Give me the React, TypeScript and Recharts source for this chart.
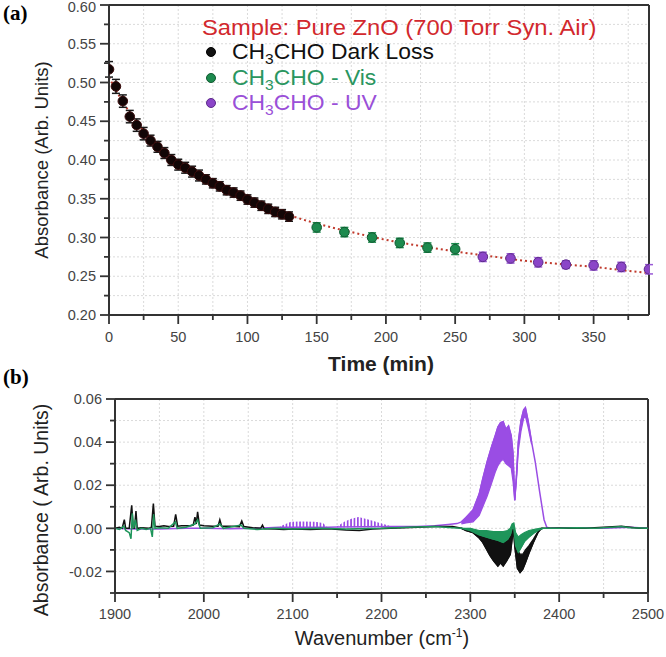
import React from 'react';
import { ComposedChart, Scatter, Line, Area, XAxis, YAxis, CartesianGrid, ErrorBar, ReferenceLine } from 'recharts';

const SANS = "'Liberation Sans', Arial, sans-serif";
const SERIF = "'Liberation Serif', 'Times New Roman', serif";

// ---- (a) decay of CH3CHO ----
const darkTime = [0, 5, 10, 15, 20, 25, 30, 35, 40, 45, 50, 55, 60, 65, 70, 75, 80, 85, 90, 95, 100, 105, 110, 115, 120, 125, 130];
const darkAbs = [0.517, 0.495, 0.476, 0.456, 0.445, 0.434, 0.425, 0.417, 0.409, 0.4, 0.394, 0.39, 0.385, 0.38, 0.375, 0.37, 0.366, 0.361, 0.358, 0.354, 0.349, 0.345, 0.341, 0.337, 0.333, 0.33, 0.327];
const darkErr = [0.01, 0.009, 0.008, 0.008, 0.008, 0.008, 0.007, 0.007, 0.007, 0.007, 0.007, 0.007, 0.007, 0.007, 0.006, 0.006, 0.006, 0.006, 0.006, 0.006, 0.006, 0.006, 0.006, 0.006, 0.006, 0.006, 0.006];
const visTime = [150, 170, 190, 210, 230, 250];
const visAbs = [0.313, 0.307, 0.3, 0.293, 0.287, 0.285];
const visErr = [0.006, 0.006, 0.006, 0.006, 0.006, 0.007];
const uvTime = [270, 290, 310, 330, 350, 370, 390];
const uvAbs = [0.275, 0.273, 0.268, 0.265, 0.264, 0.262, 0.259];
const uvErr = [0.006, 0.006, 0.006, 0.005, 0.006, 0.006, 0.006];
const fitTime = [0, 5, 10, 15, 20, 30, 40, 50, 60, 70, 80, 90, 100, 115, 130, 150, 175, 200, 225, 250, 275, 300, 325, 350, 375, 390];
const fitAbs = [0.507, 0.49, 0.475, 0.461, 0.449, 0.428, 0.41, 0.396, 0.384, 0.374, 0.365, 0.357, 0.349, 0.339, 0.329, 0.318, 0.307, 0.297, 0.289, 0.282, 0.276, 0.27, 0.266, 0.262, 0.257, 0.254];
const timeTicks = [0, 25, 50, 75, 100, 125, 150, 175, 200, 225, 250, 275, 300, 325, 350, 375];
const absTicks = [0.2, 0.225, 0.25, 0.275, 0.3, 0.325, 0.35, 0.375, 0.4, 0.425, 0.45, 0.475, 0.5, 0.525, 0.55, 0.575, 0.6];

// ---- (b) IR spectra ----
const darkWn = [1900, 1905, 1908, 1910.5, 1912, 1916, 1918.8, 1920.5, 1922, 1923.6, 1925, 1930, 1938, 1941, 1943.2, 1945, 1950, 1955, 1960, 1966, 1968.3, 1970.5, 1975, 1985, 1988, 1990, 1991.5, 1993, 1995, 2000, 2010, 2016, 2018, 2020, 2030, 2040, 2042.7, 2045, 2055, 2064, 2066, 2068, 2080, 2090, 2100, 2120, 2140, 2160, 2175, 2190, 2210, 2240, 2260, 2280, 2290, 2295, 2303, 2310, 2314, 2318, 2322, 2326, 2331, 2334, 2337, 2341, 2345, 2347, 2348.5, 2350, 2353, 2356, 2359, 2362, 2366, 2371, 2376, 2380, 2385, 2400, 2430, 2450, 2470, 2490, 2500];
const darkSpec = [0, 0.0005, 0, 0.004, 0, 0, 0.0107, 0, 0, 0.008, 0, 0.0003, 0, 0.0005, 0.0115, 0.001, 0.0008, 0.0012, 0.0008, 0.001, 0.0065, 0.001, 0.0012, 0.0012, 0.0015, 0.0052, 0.002, 0.0076, 0.0015, 0.0012, 0.001, 0.001, 0.004, 0.001, 0.001, 0.0008, 0.0034, 0.0008, 0.0003, 0, 0.0015, -0.0002, -0.0003, -0.0005, -0.0003, -0.0005, -0.0002, -0.0008, -0.001, -0.0003, 0, 0.0005, 0.0008, 0.0008, 0, -0.001, -0.002, -0.0045, -0.0065, -0.0095, -0.0125, -0.015, -0.0175, -0.016, -0.0175, -0.015, -0.012, -0.005, 0, -0.008, -0.0185, -0.0205, -0.019, -0.016, -0.0115, -0.0065, -0.002, 0, 0, 0.0002, 0, 0.0005, 0.001, 0, 0];
const darkBandWn = [2290, 2295, 2303, 2310, 2314, 2318, 2322, 2326, 2331, 2334, 2337, 2341, 2345, 2347, 2348.5, 2350, 2353, 2356, 2359, 2362, 2366, 2371, 2376, 2380];
const darkBandHi = [0, -0.0005, -0.001, -0.0015, -0.002, -0.002, -0.0025, -0.003, -0.003, -0.003, -0.003, -0.003, -0.002, 0, 0.001, -0.004, -0.01, -0.012, -0.012, -0.01, -0.008, -0.005, -0.0015, 0];
const darkBandLo = [0, -0.001, -0.002, -0.0045, -0.0065, -0.0095, -0.0125, -0.015, -0.0175, -0.016, -0.0175, -0.015, -0.012, -0.005, 0, -0.008, -0.0185, -0.0205, -0.019, -0.016, -0.0115, -0.0065, -0.002, 0];

const visWn = [1900, 1905, 1910, 1912, 1916, 1918, 1919.5, 1921, 1923, 1925, 1930, 1935, 1940, 1942, 1943.5, 1945, 1950, 1960, 1968, 1970, 1980, 1990, 1993, 1996, 2010, 2018, 2022, 2042, 2045, 2060, 2080, 2100, 2130, 2160, 2200, 2230, 2260, 2280, 2290, 2300, 2310, 2318, 2326, 2331, 2337, 2342, 2345, 2347, 2349, 2351, 2354, 2357, 2361, 2366, 2372, 2378, 2382, 2400, 2420, 2440, 2460, 2470, 2480, 2500];
const visSpec = [0, -0.0005, 0.001, -0.001, -0.002, -0.0048, 0.007, 0, 0.004, -0.001, 0, -0.0005, 0, -0.004, 0.0065, 0, 0.0003, 0, 0.003, 0, 0.0005, 0.002, 0.004, 0, 0.0003, 0.002, 0, 0.0015, 0, -0.0005, 0, -0.0003, 0, -0.0003, 0, 0.0005, 0.0008, 0.0003, 0, -0.001, -0.003, -0.004, -0.005, -0.0055, -0.0065, -0.005, -0.003, 0, 0, -0.008, -0.011, -0.009, -0.006, -0.004, -0.002, -0.0005, 0, 0, 0.0003, 0, 0.0005, 0.0008, 0.0003, 0];
const visBandWn = [2290, 2300, 2310, 2318, 2326, 2331, 2337, 2342, 2345, 2347, 2349, 2351, 2354, 2357, 2361, 2366, 2372, 2378, 2382];
const visBandHi = [0, 0, -0.001, -0.001, -0.0015, -0.0015, -0.0015, -0.001, 0, 0.002, 0.0025, -0.002, -0.004, -0.003, -0.002, -0.001, -0.0005, 0, 0];
const visBandLo = [0, -0.001, -0.003, -0.004, -0.005, -0.0055, -0.0065, -0.005, -0.003, 0, 0, -0.008, -0.011, -0.009, -0.006, -0.004, -0.002, -0.0005, 0];

const uvWn = [1900, 1920, 1950, 1980, 2000, 2030, 2060, 2085, 2140, 2150, 2212, 2240, 2260, 2275, 2285, 2290, 2295, 2303, 2310, 2314, 2319, 2324, 2328, 2331, 2334, 2337, 2340, 2343, 2346, 2348, 2350, 2352, 2354, 2357, 2360, 2362, 2365, 2369, 2373, 2378, 2383, 2386, 2390, 2420, 2450, 2480, 2500];
const uvSpec = [0, -0.0003, -0.0003, 0, 0, -0.0002, 0, 0.0005, 0.0005, 0.0006, 0.0008, 0.0008, 0.0012, 0.0018, 0.0022, 0.003, 0.005, 0.0085, 0.016, 0.023, 0.031, 0.038, 0.043, 0.047, 0.049, 0.0495, 0.046, 0.0475, 0.043, 0.035, 0.013, 0.025, 0.04, 0.05, 0.055, 0.056, 0.05, 0.04, 0.031, 0.017, 0.004, 0.0005, 0, 0.0003, 0, 0.0005, 0];
const uvBandWn = [2290, 2295, 2303, 2310, 2314, 2319, 2324, 2328, 2331, 2334, 2337, 2340, 2343, 2346, 2348, 2350, 2352, 2354, 2357, 2360, 2362, 2365, 2369];
const uvBandHi = [0.003, 0.005, 0.0085, 0.016, 0.023, 0.031, 0.038, 0.043, 0.047, 0.049, 0.0495, 0.046, 0.0475, 0.043, 0.035, 0.013, 0.025, 0.04, 0.05, 0.055, 0.056, 0.05, 0.04];
const uvBandLo = [0.002, 0.0025, 0.003, 0.006, 0.01, 0.015, 0.021, 0.026, 0.029, 0.031, 0.032, 0.03, 0.029, 0.028, 0.022, 0.013, 0.023, 0.036, 0.045, 0.051, 0.052, 0.047, 0.039];
const comb1Wn = [2086, 2092, 2098, 2110, 2125, 2134, 2138];
const comb1Hi = [0.001, 0.002, 0.003, 0.0032, 0.003, 0.0025, 0.001];
const comb2Wn = [2150, 2158, 2166, 2174, 2182, 2190, 2198, 2206, 2212];
const comb2Hi = [0.0008, 0.003, 0.0045, 0.0052, 0.0045, 0.0035, 0.0025, 0.0015, 0.0008];
const combBase = 0.0005;
const wnTicks = [1900, 1950, 2000, 2050, 2100, 2150, 2200, 2250, 2300, 2350, 2400, 2450, 2500];
const specTicks = [-0.03, -0.02, -0.01, 0, 0.01, 0.02, 0.03, 0.04, 0.05, 0.06];

const pts = (xs: number[], ys: number[], errs?: number[]) =>
  xs.map((t, i) => ({ t, a: ys[i], err: errs ? errs[i] : 0 }));
const spec = (xs: number[], ys: number[]) => xs.map((wn, i) => ({ wn, v: ys[i] }));
const band = (xs: number[], lo: number[], hi: number[]) => xs.map((wn, i) => ({ wn, r: [lo[i], hi[i]] }));

const AX = '#333';
const TICK_TXT = '#444';
const GREEN = '#1e955a';
const PURPLE = '#9a4de4';

function yTick(axisX: number, isMajor: (v: number) => boolean, fmt: (v: number) => string) {
  return (props: any) => {
    const { y, payload } = props;
    const major = isMajor(payload.value);
    return (
      <g>
        <line x1={axisX - (major ? 9 : 5)} x2={axisX} y1={y} y2={y} stroke={AX} strokeWidth={1.8} />
        {major && (
          <text x={axisX - 13} y={Math.max(y, 7)} dy="0.36em" textAnchor="end" fontSize={14.5} fill={TICK_TXT} fontFamily={SANS}>
            {fmt(payload.value)}
          </text>
        )}
      </g>
    );
  };
}

function xTick(axisY: number, isMajor: (v: number) => boolean, fmt: (v: number) => string, gap: number) {
  return (props: any) => {
    const { x, payload } = props;
    const major = isMajor(payload.value);
    return (
      <g>
        <line x1={x} x2={x} y1={axisY} y2={axisY + (major ? 9 : 5)} stroke={AX} strokeWidth={1.8} />
        {major && (
          <text x={x} y={axisY + gap} dy="0.36em" textAnchor="middle" fontSize={14.5} fill={TICK_TXT} fontFamily={SANS}>
            {fmt(payload.value)}
          </text>
        )}
      </g>
    );
  };
}

const near = (v: number, step: number) => Math.abs(Math.round(v / step) * step - v) < 1e-7;

const dot = (fill: string, stroke: string) => (p: any) =>
  <circle cx={p.cx} cy={p.cy} r={4.8} fill={fill} stroke={stroke} strokeWidth={1} />;

const Txt = ({ x, y, rot, left, sx, style, children }: any) => (
  <div
    style={{
      position: 'absolute',
      left: x,
      top: y,
      transform: left
        ? `translateY(-50%)${sx ? ` scaleX(${sx})` : ''}`
        : `translate(-50%,-50%)${rot ? ' rotate(-90deg)' : ''}`,
      transformOrigin: left ? 'left center' : 'center center',
      whiteSpace: 'nowrap',
      lineHeight: 1,
      fontFamily: SANS,
      ...style,
    }}
  >
    {children}
  </div>
);

const Sub = ({ children }: any) => (
  <sub style={{ fontSize: '0.68em', verticalAlign: '-0.32em', lineHeight: 0 }}>{children}</sub>
);

const LegendDot = ({ y, color, border }: any) => (
  <div style={{ position: 'absolute', left: 206, top: y - 5, width: 10, height: 10, borderRadius: 5, background: color, boxSizing: 'border-box', border: `1px solid ${border}` }} />
);

export default function App() {
  return (
    <div style={{ position: 'absolute', left: 0, top: 0, width: 666, height: 657, background: '#fff', overflow: 'hidden' }}>
      <div style={{ position: 'absolute', left: 0, top: 0 }}>
        <ComposedChart width={666} height={380} margin={{ top: 5, right: 17, bottom: 25, left: 0 }}>
          <CartesianGrid stroke="#dadada" strokeDasharray="2 2" />
          <XAxis
            dataKey="t"
            type="number"
            domain={[0, 390]}
            ticks={timeTicks}
            interval={0}
            height={40}
            axisLine={{ stroke: AX, strokeWidth: 2 }}
            tickLine={false}
            tick={xTick(315, (v) => near(v, 50), (v) => String(v), 22)}
            allowDataOverflow
          />
          <YAxis
            type="number"
            domain={[0.2, 0.6]}
            ticks={absTicks}
            interval={0}
            width={109}
            axisLine={{ stroke: AX, strokeWidth: 2 }}
            tickLine={false}
            tick={yTick(109, (v) => near(v, 0.05), (v) => v.toFixed(2))}
            allowDataOverflow
          />
          <ReferenceLine y={0.6} stroke={AX} strokeWidth={2} />
          <ReferenceLine x={390} stroke={AX} strokeWidth={2} />
          <Line data={pts(fitTime, fitAbs)} dataKey="a" type="monotone" stroke="#c0392b" strokeWidth={2} strokeDasharray="2 3" dot={false} isAnimationActive={false} />
          <Scatter data={pts(darkTime, darkAbs, darkErr)} dataKey="a" shape={dot('#120606', '#3a0c0c')} isAnimationActive={false}>
            <ErrorBar dataKey="err" direction="y" width={4} stroke="#1a1a1a" strokeWidth={1.5} />
          </Scatter>
          <Scatter data={pts(visTime, visAbs, visErr)} dataKey="a" shape={dot('#1d8a4e', '#0f5a30')} isAnimationActive={false}>
            <ErrorBar dataKey="err" direction="y" width={4} stroke="#1d8a4e" strokeWidth={1.5} />
          </Scatter>
          <Scatter data={pts(uvTime, uvAbs, uvErr)} dataKey="a" shape={dot('#8b45c8', '#5c2a8a')} isAnimationActive={false}>
            <ErrorBar dataKey="err" direction="y" width={4} stroke="#9a5ad6" strokeWidth={1.5} />
          </Scatter>
        </ComposedChart>
      </div>

      <div style={{ position: 'absolute', left: 0, top: 380 }}>
        <ComposedChart width={666} height={277} margin={{ top: 19, right: 18, bottom: 34, left: 0 }}>
          <defs>
            <pattern id="comb" width={3.4} height={20} patternUnits="userSpaceOnUse">
              <rect x={0} y={0} width={1.7} height={20} fill={PURPLE} />
            </pattern>
          </defs>
          <CartesianGrid stroke="#dadada" strokeDasharray="2 2" />
          <XAxis
            dataKey="wn"
            type="number"
            domain={[1900, 2500]}
            ticks={wnTicks}
            interval={0}
            height={30}
            axisLine={{ stroke: AX, strokeWidth: 2 }}
            tickLine={false}
            tick={xTick(213, (v) => near(v, 100), (v) => String(v), 21)}
            allowDataOverflow
          />
          <YAxis
            type="number"
            domain={[-0.03, 0.06]}
            ticks={specTicks}
            interval={0}
            width={115}
            axisLine={{ stroke: AX, strokeWidth: 2 }}
            tickLine={false}
            tick={yTick(115, (v) => near(v, 0.02), (v) => v.toFixed(2))}
            allowDataOverflow
          />
          <ReferenceLine y={0.06} stroke={AX} strokeWidth={2} />
          <ReferenceLine x={2500} stroke={AX} strokeWidth={2} />
          <Area data={band(comb1Wn, comb1Wn.map(() => combBase), comb1Hi)} dataKey="r" type="linear" stroke="none" fill="url(#comb)" fillOpacity={1} isAnimationActive={false} />
          <Area data={band(comb2Wn, comb2Wn.map(() => combBase), comb2Hi)} dataKey="r" type="linear" stroke="none" fill="url(#comb)" fillOpacity={1} isAnimationActive={false} />
          <Area data={band(uvBandWn, uvBandLo, uvBandHi)} dataKey="r" type="linear" stroke={PURPLE} strokeWidth={1.2} fill={PURPLE} fillOpacity={1} isAnimationActive={false} />
          <Line data={spec(uvWn, uvSpec)} dataKey="v" type="linear" stroke={PURPLE} strokeWidth={1.5} dot={false} isAnimationActive={false} />
          <Area data={band(darkBandWn, darkBandLo, darkBandHi)} dataKey="r" type="linear" stroke="#111" strokeWidth={1.2} fill="#111" fillOpacity={1} isAnimationActive={false} />
          <Line data={spec(darkWn, darkSpec)} dataKey="v" type="linear" stroke="#111" strokeWidth={1.5} dot={false} isAnimationActive={false} />
          <Area data={band(visBandWn, visBandLo, visBandHi)} dataKey="r" type="linear" stroke={GREEN} strokeWidth={1.2} fill={GREEN} fillOpacity={1} isAnimationActive={false} />
          <Line data={spec(visWn, visSpec)} dataKey="v" type="linear" stroke={GREEN} strokeWidth={1.5} dot={false} isAnimationActive={false} />
        </ComposedChart>
      </div>

      <Txt x={3} y={13} left style={{ fontFamily: SERIF, fontWeight: 'bold', fontSize: 21 }}>(a)</Txt>
      <Txt x={3} y={377} left style={{ fontFamily: SERIF, fontWeight: 'bold', fontSize: 21 }}>(b)</Txt>

      <Txt x={42} y={160} rot style={{ fontSize: 18.5, color: '#222' }}>Absorbance (Arb. Units)</Txt>
      <Txt x={381} y={363} style={{ fontSize: 21, fontWeight: 'bold', color: '#222' }}>Time (min)</Txt>
      <Txt x={42} y={510} rot style={{ fontSize: 19.5, color: '#222' }}>Absorbance ( Arb. Units)</Txt>
      <Txt x={382} y={638} style={{ fontSize: 20, color: '#222' }}>
        Wavenumber (cm<sup style={{ fontSize: '0.6em', verticalAlign: '0.7em', lineHeight: 0 }}>-1</sup>)
      </Txt>

      <Txt x={202} y={28} left sx={1.08} style={{ fontSize: 22, color: '#d2282d' }}>Sample: Pure ZnO (700 Torr Syn. Air)</Txt>
      <LegendDot y={52} color="#111" border="#000" />
      <Txt x={232} y={52} left sx={1.04} style={{ fontSize: 22, color: '#111' }}>CH<Sub>3</Sub>CHO Dark Loss</Txt>
      <LegendDot y={78} color="#1d8a4e" border="#0f5a30" />
      <Txt x={232} y={78} left sx={1.04} style={{ fontSize: 22, color: '#2a9660' }}>CH<Sub>3</Sub>CHO - Vis</Txt>
      <LegendDot y={103} color="#8b45c8" border="#5c2a8a" />
      <Txt x={232} y={103} left sx={1.04} style={{ fontSize: 22, color: '#9a4fd8' }}>CH<Sub>3</Sub>CHO - UV</Txt>
    </div>
  );
}
